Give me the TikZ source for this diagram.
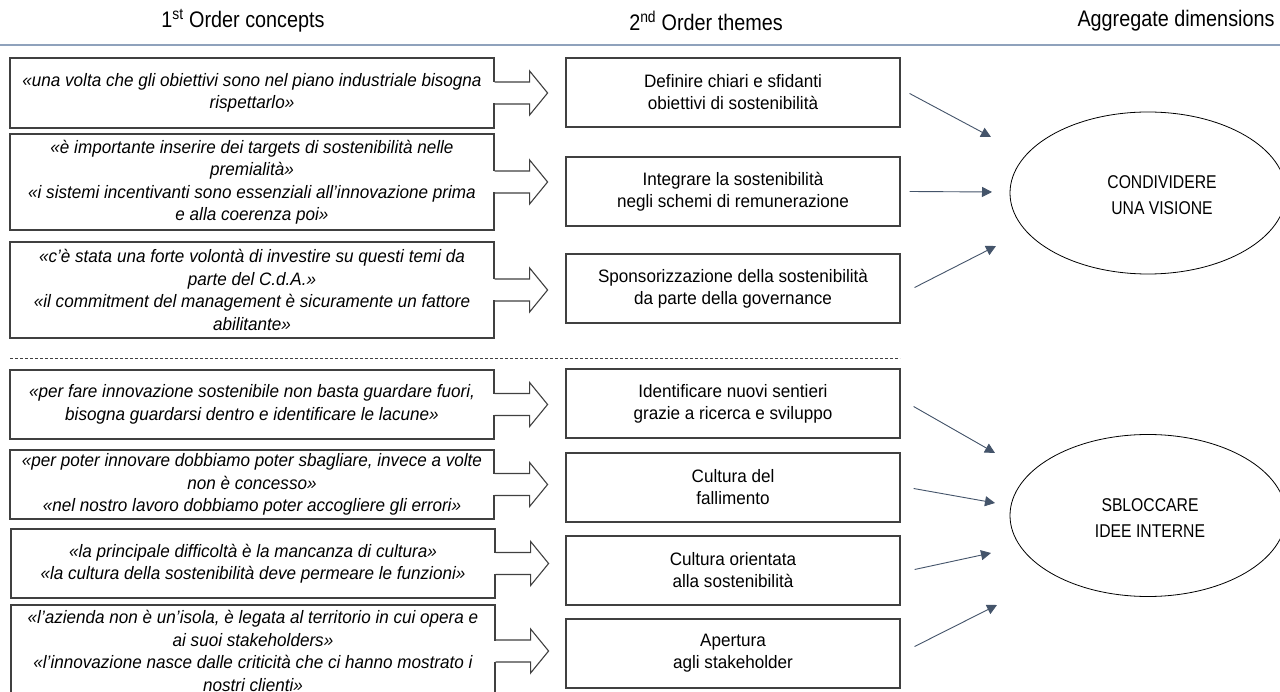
\documentclass[tikz,border=0pt]{standalone}
\usepackage{fontspec}
\setmainfont{Liberation Sans}[FakeStretch=0.85]
\newfontfamily\qfont{Liberation Sans}[FakeStretch=0.95]
\newfontfamily\hfont{Liberation Sans}[FakeStretch=0.88]
\usetikzlibrary{shapes.geometric,arrows.meta,calc}
\definecolor{hdrline}{HTML}{8FA2BC}
\definecolor{arr}{HTML}{44546A}
\definecolor{boxline}{HTML}{404040}
\tikzset{
  hdr/.style={font=\hfont\fontsize{22.5}{26}\selectfont, anchor=center},
  qbox/.style={draw=boxline, line width=1.2pt, minimum width=484pt, align=center, inner sep=2pt,
    font=\qfont\fontsize{18}{22.5}\selectfont\itshape},
  tbox/.style={draw=boxline, line width=1.2pt, minimum width=334pt, minimum height=69pt, align=center,
    font=\qfont\fontsize{18}{22}\selectfont},
  dimell/.style={draw=black, line width=0.8pt, ellipse, minimum width=276pt, minimum height=162pt},
  dimtxt/.style={align=center, font=\fontsize{18.5}{26}\selectfont},
  barrow/.style={draw=boxline, line width=1.1pt, line join=miter},
  conn/.style={draw=arr, line width=0.9pt, -{Triangle[length=10pt,width=10pt]}}
}
\newcommand{\blockarr}[1]{%
  \fill[white] (#1.east) ++(-2,-10.5) rectangle ++(4,21);
  \draw[barrow] (#1.east) ++(0,-11) -- ++(35,0) -- ++(0,-11) -- ++(18,22) -- ++(-18,22) -- ++(0,-11) -- ++(-35,0);
}
\begin{document}
\begin{tikzpicture}[x=1pt,y=-1pt]
\useasboundingbox (0,0) rectangle (1280,692);
\clip (0,0) rectangle (1280,692);
\fill[white] (0,0) rectangle (1280,692);

% headers
\node[hdr] (h1) at (243,21) {1\textsuperscript{st} Order concepts};
\node[hdr] (h2) at (706,21) {2\textsuperscript{nd} Order themes};
\node[hdr] (h3) at (1176,21) {Aggregate dimensions};
\draw[hdrline, line width=1.6pt] (0,45) -- (1280,45);

% first order concepts
\node[qbox, minimum height=70pt] (l1) at (252,93) {«una volta che gli obiettivi sono nel piano industriale bisogna\\rispettarlo»};
\node[qbox, minimum height=96pt] (l2) at (252,182) {«è importante inserire dei targets di sostenibilità nelle\\premialità»\\«i sistemi incentivanti sono essenziali all’innovazione prima\\e alla coerenza poi»};
\node[qbox, minimum height=96pt] (l3) at (252,290) {«c’è stata una forte volontà di investire su questi temi da\\parte del C.d.A.»\\«il commitment del management è sicuramente un fattore\\abilitante»};
\node[qbox, minimum height=69pt] (l4) at (252,404.5) {«per fare innovazione sostenibile non basta guardare fuori,\\bisogna guardarsi dentro e identificare le lacune»};
\node[qbox, minimum height=69pt] (l5) at (252,484.5) {«per poter innovare dobbiamo poter sbagliare, invece a volte\\non è concesso»\\«nel nostro lavoro dobbiamo poter accogliere gli errori»};
\node[qbox, minimum height=69pt] (l6) at (253,563.5) {«la principale difficoltà è la mancanza di cultura»\\«la cultura della sostenibilità deve permeare le funzioni»};
\node[qbox, minimum height=92pt] (l7) at (253,651) {«l’azienda non è un’isola, è legata al territorio in cui opera e\\ai suoi stakeholders»\\«l’innovazione nasce dalle criticità che ci hanno mostrato i\\nostri clienti»};

% second order themes
\node[tbox] (t1) at (733,92.5) {Definire chiari e sfidanti\\obiettivi di sostenibilità};
\node[tbox] (t2) at (733,191.5) {Integrare la sostenibilità\\negli schemi di remunerazione};
\node[tbox] (t3) at (733,288.5) {Sponsorizzazione della sostenibilità\\da parte della governance};
\node[tbox] (t4) at (733,403.5) {Identificare nuovi sentieri\\grazie a ricerca e sviluppo};
\node[tbox] (t5) at (733,487.5) {Cultura del\\fallimento};
\node[tbox] (t6) at (733,570.5) {Cultura orientata\\alla sostenibilità};
\node[tbox] (t7) at (733,653.5) {Apertura\\agli stakeholder};

% block arrows
\blockarr{l1}\blockarr{l2}\blockarr{l3}\blockarr{l4}\blockarr{l5}\blockarr{l6}\blockarr{l7}

% separator
\draw[boxline, line width=0.8pt, dash pattern=on 3pt off 2pt] (10,358.5) -- (900,358.5);

% aggregate dimensions
\node[dimell] (d1) at (1148,193) {};
\node[dimtxt] (d1t) at (1162,195) {CONDIVIDERE\\UNA VISIONE};
\node[dimell] (d2) at (1148,515.5) {};
\node[dimtxt] (d2t) at (1150,518) {SBLOCCARE\\IDEE INTERNE};

% arrow end points
\coordinate (e1) at (991,137);
\coordinate (e2) at (992,192);
\coordinate (e3) at (996,246);
\coordinate (e4) at (995,453);
\coordinate (e5) at (995,503);
\coordinate (e6) at (991,553);
\coordinate (e7) at (997,605);

\draw[conn] ([xshift=9pt,yshift=-1pt]t1.east) -- (e1);
\draw[conn] ([xshift=9pt]t2.east) -- (e2);
\draw[conn] ([xshift=14pt,yshift=1pt]t3.east) -- (e3);
\draw[conn] ([xshift=13pt,yshift=-3pt]t4.east) -- (e4);
\draw[conn] ([xshift=13pt,yshift=-1pt]t5.east) -- (e5);
\draw[conn] ([xshift=14pt,yshift=1pt]t6.east) -- (e6);
\draw[conn] ([xshift=14pt,yshift=7pt]t7.east) -- (e7);
\end{tikzpicture}
\end{document}
